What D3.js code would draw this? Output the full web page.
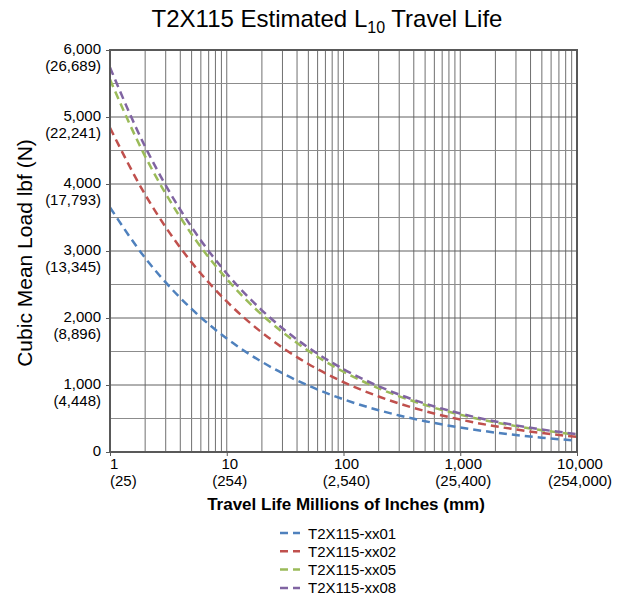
<!DOCTYPE html>
<html><head><meta charset="utf-8">
<script src="https://cdn.jsdelivr.net/npm/d3@7"></script>
<style>
body{margin:0;background:#fff}
text{font-family:"Liberation Sans",Arial,Helvetica,sans-serif;fill:#000}
</style>
</head><body><svg id="c" width="623" height="599"></svg>
<script>
// ---- data ----
const travelLife = [1,2,3,5,10,20,30,50,100,200,300,500,1000,2000,3000,5000,10000];
const seriesNames = ["T2X115-xx01","T2X115-xx02","T2X115-xx05","T2X115-xx08"];
const loadXX01 = [3650,2897,2531,2135,1694,1345,1175,991,786,624,545,460,365,290,253,213,169];
const loadXX02 = [4840,3842,3356,2830,2247,1783,1558,1314,1043,828,723,610,484,384,336,283,225];
const loadXX05 = [5560,4413,3855,3251,2581,2048,1789,1509,1198,951,831,701,556,441,386,325,258];
const loadXX08 = [5740,4556,3980,3357,2664,2115,1847,1558,1237,982,857,723,574,456,398,336,266];
const seriesColors = ["#4F81BD","#C0504D","#9BBB59","#8064A2"];

const xTickValues = [1,10,100,1000,10000];
const xTickLabels = ["1","10","100","1,000","10,000"];
const xTickLabelsMM = ["(25)","(254)","(2,540)","(25,400)","(254,000)"];
const yTickValues = [0,1000,2000,3000,4000,5000,6000];
const yTickLabels = ["0","1,000","2,000","3,000","4,000","5,000","6,000"];
const yTickLabelsN = ["","(4,448)","(8,896)","(13,345)","(17,793)","(22,241)","(26,689)"];

// ---- layout ----
const L = 110, R = 577, T = 50, B = 452;
const svg = d3.select("#c");
const x = d3.scaleLog().domain([1,10000]).range([L,R]);
const y = d3.scaleLinear().domain([0,6000]).range([B,T]);

// grid: vertical lines at 1..9 per decade
const vGrid = [];
for (let d = 1; d <= 1000; d *= 10) for (let k = 1; k <= 9; k++) vGrid.push(d*k);
vGrid.push(10000);
svg.append("g").selectAll("line").data(vGrid).join("line")
  .attr("x1", d => x(d)).attr("x2", d => x(d))
  .attr("y1", T).attr("y2", B)
  .attr("stroke", "#707070").attr("stroke-width", 1);
// horizontal: minor (500) and major (1000)
const hMinor = d3.range(500, 6000, 1000);
svg.append("g").selectAll("line").data(hMinor).join("line")
  .attr("x1", L).attr("x2", R).attr("y1", d => y(d)).attr("y2", d => y(d))
  .attr("stroke", "#8c8c8c").attr("stroke-width", 1);
svg.append("g").selectAll("line").data(yTickValues).join("line")
  .attr("x1", L).attr("x2", R).attr("y1", d => y(d)).attr("y2", d => y(d))
  .attr("stroke", "#606060").attr("stroke-width", 1);

// axes ticks via d3 axes
svg.append("g").attr("transform", `translate(${L},0)`)
  .call(d3.axisLeft(y).tickValues(yTickValues).tickSize(4).tickFormat(""))
  .call(g => g.select(".domain").remove())
  .call(g => g.selectAll("line").attr("stroke", "#595959"));
svg.append("g").attr("transform", `translate(0,${B})`)
  .call(d3.axisBottom(x).tickValues(xTickValues).tickSize(4).tickFormat(""))
  .call(g => g.select(".domain").remove())
  .call(g => g.selectAll("line").attr("stroke", "#595959"));

// series
const allSeries = [loadXX01, loadXX02, loadXX05, loadXX08];
const line = d3.line().x(d => x(d[0])).y(d => y(d[1])).curve(d3.curveMonotoneX);
allSeries.forEach((vals, i) => {
  svg.append("path")
    .datum(travelLife.map((t, j) => [t, vals[j]]))
    .attr("d", line)
    .attr("fill", "none")
    .attr("stroke", seriesColors[i])
    .attr("stroke-width", 2.5)
    .attr("stroke-dasharray", "8,5");
});

// frame
svg.append("rect").attr("x", L).attr("y", T).attr("width", R - L).attr("height", B - T)
  .attr("fill", "none").attr("stroke", "#595959").attr("stroke-width", 2);

// y tick labels (two lines)
const yl = svg.append("g").attr("font-size", 15).attr("text-anchor", "end");
yTickValues.forEach((v, i) => {
  const t = yl.append("text").attr("x", 101).attr("y", y(v) + 4);
  t.append("tspan").attr("x", 101).text(yTickLabels[i]);
  if (yTickLabelsN[i]) t.append("tspan").attr("x", 101).attr("dy", 16.5).text(yTickLabelsN[i]);
});

// x tick labels
const xl = svg.append("g").attr("font-size", 15);
xTickValues.forEach((v, i) => {
  const first = i === 0;
  const px = first ? L : x(v) + 3;
  const anchor = first ? "start" : "middle";
  const t = xl.append("text").attr("x", px).attr("y", B + 17).attr("text-anchor", anchor);
  t.append("tspan").attr("x", px).text(xTickLabels[i]);
  t.append("tspan").attr("x", px).attr("dy", 16.5).text(xTickLabelsMM[i]);
});

// title
const title = svg.append("text").attr("x", 327).attr("y", 27).attr("text-anchor", "middle")
  .attr("font-size", 24);
title.append("tspan").text("T2X115 Estimated L");
title.append("tspan").attr("font-size", 16).attr("dy", 6).text("10");
title.append("tspan").attr("dy", -6).text(" Travel Life");

// axis titles
svg.append("text").attr("transform", `translate(32,253) rotate(-90)`)
  .attr("text-anchor", "middle").attr("font-size", 21).text("Cubic Mean Load lbf (N)");
svg.append("text").attr("x", 346).attr("y", 510).attr("text-anchor", "middle")
  .attr("font-size", 17).attr("font-weight", "bold").text("Travel Life Millions of Inches (mm)");

// legend
const lg = svg.append("g");
seriesNames.forEach((name, i) => {
  const cy = 533 + i * 18.3;
  lg.append("line").attr("x1", 280).attr("x2", 300).attr("y1", cy).attr("y2", cy)
    .attr("stroke", seriesColors[i]).attr("stroke-width", 2.5).attr("stroke-dasharray", "8,5");
  lg.append("text").attr("x", 308).attr("y", cy + 5.5).attr("font-size", 15).text(name);
});
</script>
</body></html>
